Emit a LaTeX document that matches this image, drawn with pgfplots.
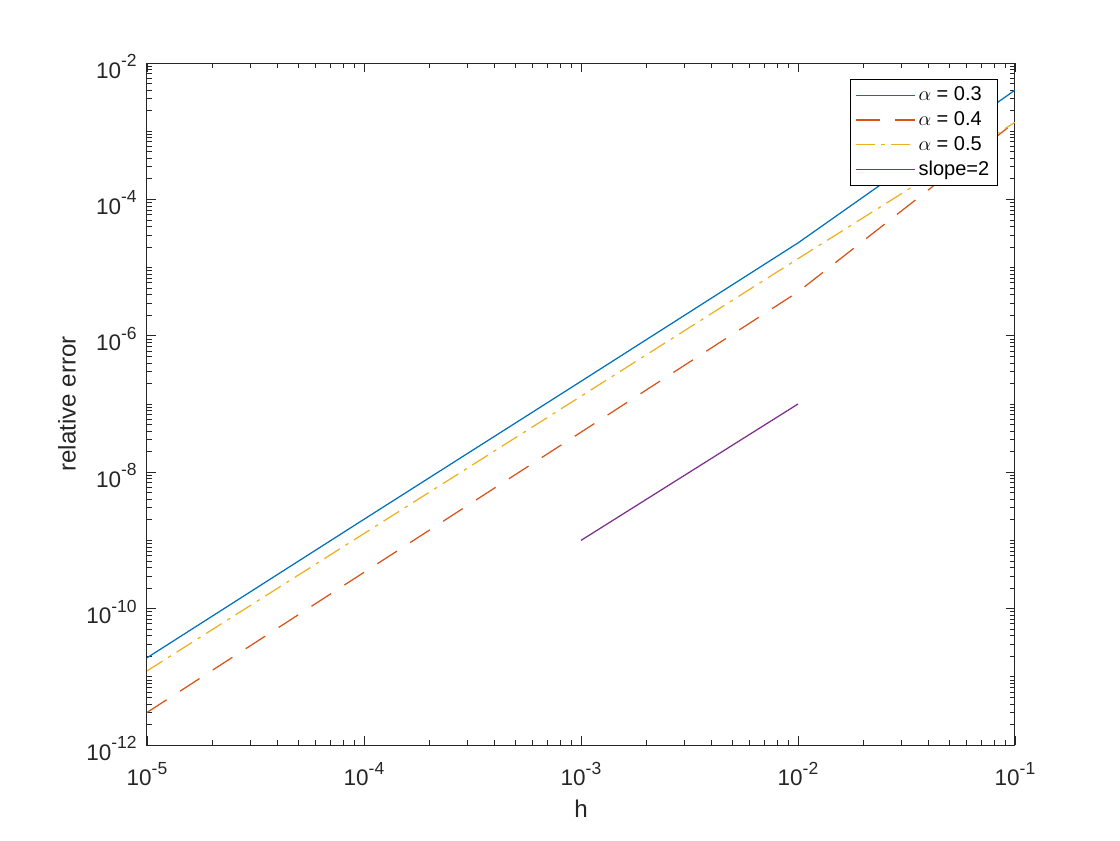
\documentclass[border=0pt]{standalone}
\usepackage{pgfplots}
\pgfplotsset{compat=1.18}
\usepackage{fontspec}
\setmainfont{Liberation Sans}
\definecolor{mblue}{rgb}{0,0.447,0.741}
\definecolor{morange}{rgb}{0.85,0.325,0.098}
\definecolor{myellow}{rgb}{0.929,0.694,0.125}
\definecolor{mpurple}{rgb}{0.494,0.184,0.556}
\definecolor{axgray}{rgb}{0.15,0.15,0.15}
\newcommand{\ex}[1]{10\raisebox{7pt}{\fontsize{10.5}{11}\selectfont #1}}
\begin{document}
\fontsize{12}{14}\selectfont
\begin{tikzpicture}
\path[use as bounding box] (0,0) rectangle (672pt,504pt);
\begin{axis}[
  at={(88.2pt,57pt)}, anchor=south west,
  scale only axis, width=520.8pt, height=409.2pt,
  xmode=log, ymode=log,
  xmin=1e-5, xmax=1e-1, ymin=1e-12, ymax=1e-2,
  xtick={1e-5,1e-4,1e-3,1e-2,1e-1},
  xticklabels={\ex{-5},\ex{-4},\ex{-3},\ex{-2},\ex{-1}},
  ytick={1e-12,1e-10,1e-8,1e-6,1e-4,1e-2},
  yticklabels={\ex{-12},\ex{-10},\ex{-8},\ex{-6},\ex{-4},\ex{-2}},
  minor ytick={2e-12,3e-12,4e-12,5e-12,6e-12,7e-12,8e-12,9e-12,1e-11,
    2e-11,3e-11,4e-11,5e-11,6e-11,7e-11,8e-11,9e-11,
    2e-10,3e-10,4e-10,5e-10,6e-10,7e-10,8e-10,9e-10,1e-9,
    2e-9,3e-9,4e-9,5e-9,6e-9,7e-9,8e-9,9e-9,
    2e-8,3e-8,4e-8,5e-8,6e-8,7e-8,8e-8,9e-8,1e-7,
    2e-7,3e-7,4e-7,5e-7,6e-7,7e-7,8e-7,9e-7,
    2e-6,3e-6,4e-6,5e-6,6e-6,7e-6,8e-6,9e-6,1e-5,
    2e-5,3e-5,4e-5,5e-5,6e-5,7e-5,8e-5,9e-5,
    2e-4,3e-4,4e-4,5e-4,6e-4,7e-4,8e-4,9e-4,1e-3,
    2e-3,3e-3,4e-3,5e-3,6e-3,7e-3,8e-3,9e-3},
  major tick length=5.4pt, minor tick length=3pt,
  tick style={axgray, line width=0.5pt},
  axis line style={axgray, line width=0.6pt},
  tick label style={font=\fontsize{13.5}{15}\selectfont, text=axgray},
  xticklabel style={yshift=-6pt},
  yticklabel style={xshift=-2pt, yshift=-2pt},
  xlabel={h}, ylabel={relative error},
  xlabel style={at={(axis description cs:0.5,0)}, anchor=center, yshift=-38pt, font=\fontsize{14.5}{16}\selectfont, text=axgray},
  ylabel style={at={(axis description cs:0,0.5)}, anchor=center, yshift=48pt, font=\fontsize{14.5}{16}\selectfont, text=axgray},
  legend style={at={(axis description cs:0.9804,0.9765)}, anchor=north east,
    draw=black, fill=white, line width=0.5pt, font=\fontsize{12}{14}\selectfont,
    inner xsep=3pt, inner ysep=2.5pt, row sep=0.6pt, cells={anchor=west}},
  legend image code/.code={\draw[#1] (0pt,0pt) -- (35pt,0pt);},
  clip=true,
]
\addplot[mblue, line width=0.75pt] coordinates {
  (1e-5,1.9e-11) (1e-4,2.04e-9) (1e-3,2.15e-7) (1e-2,2.3e-5) (1e-1,4.0e-3)};
\addlegendentry{$\alpha$ = 0.3}
\addplot[morange, line width=0.75pt, dash pattern=on 14pt off 9.5pt] coordinates {
  (1e-5,3.0e-12) (1e-4,3.4e-10) (1e-3,3.86e-8) (1e-2,4.4e-6) (1e-1,1.36e-3)};
\addlegendentry{$\alpha$ = 0.4}
\addplot[myellow, line width=0.75pt, dash pattern=on 11pt off 4pt on 2pt off 4pt] coordinates {
  (1e-5,1.22e-11) (1e-4,1.26e-9) (1e-3,1.30e-7) (1e-2,1.35e-5) (1e-1,1.35e-3)};
\addlegendentry{$\alpha$ = 0.5}
\addplot[mpurple, line width=0.75pt] coordinates {(1e-3,1e-9) (1e-2,1e-7)};
\addlegendentry{slope=2}
\end{axis}
\end{tikzpicture}
\end{document}
